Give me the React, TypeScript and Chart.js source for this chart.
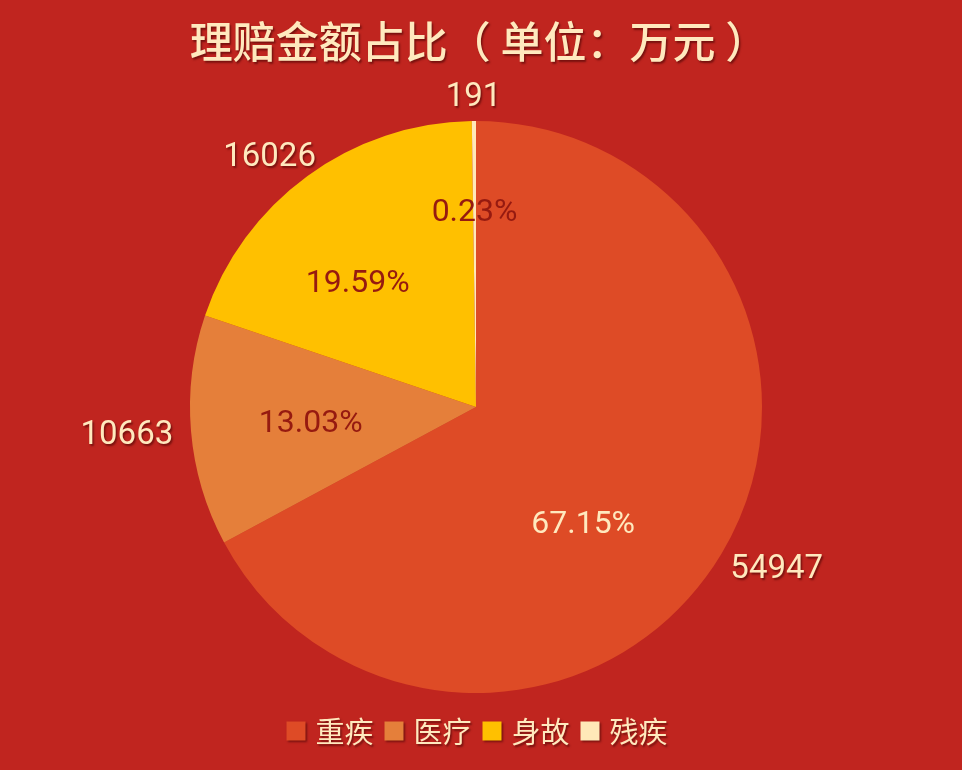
import React, { useEffect, useRef } from "react";
import { Chart, registerables } from "chart.js";

Chart.register(...registerables);

const TITLE = "理赔金额占比（ 单位：万元 ）";
const categories = ["重疾", "医疗", "身故", "残疾"];
const amounts = [54947, 10663, 16026, 191];

const BG = "#C0251F";
const sliceColors = ["#DE4B26", "#E57F3A", "#FFC000", "#FFE8B8"];
const CREAM = "#FFE9BE";
const DARK = "#961A10";
const pctColors = [CREAM, DARK, DARK, DARK];
// label anchor within each slice: fraction of the slice's angle, fraction of the radius
const pctAngleFrac = [0.567, 0.5, 0.4, 0.5];
const pctRadiusFrac = [0.55, 0.58, 0.605, 0.69];

const FONT = 'Roboto, "Noto Sans CJK SC", sans-serif';
const CJK = '"Noto Sans CJK SC", sans-serif';

const labelsPlugin = {
  id: "customLabels",
  beforeDraw(chart: any) {
    const { ctx, width, height } = chart;
    ctx.save();
    ctx.fillStyle = BG;
    ctx.fillRect(0, 0, width, height);
    ctx.restore();
  },
  afterDraw(chart: any) {
    const { ctx, width } = chart;
    const meta = chart.getDatasetMeta(0);
    const data = chart.data.datasets[0].data as number[];
    const total = data.reduce((a, b) => a + b, 0);

    const shadowOn = () => {
      ctx.shadowColor = "rgba(60,0,0,0.55)";
      ctx.shadowOffsetX = 1.5;
      ctx.shadowOffsetY = 1.5;
      ctx.shadowBlur = 2;
    };
    const shadowOff = () => {
      ctx.shadowColor = "transparent";
      ctx.shadowOffsetX = 0;
      ctx.shadowOffsetY = 0;
      ctx.shadowBlur = 0;
    };

    // title
    ctx.save();
    shadowOn();
    ctx.fillStyle = CREAM;
    ctx.font = `500 43px ${CJK}`;
    ctx.textAlign = "center";
    ctx.textBaseline = "middle";
    ctx.fillText(TITLE, 479, 42);
    ctx.restore();

    meta.data.forEach((arc: any, i: number) => {
      const { x, y, startAngle, endAngle, outerRadius } = arc.getProps(
        ["x", "y", "startAngle", "endAngle", "outerRadius"],
        true
      );
      // percentage label inside
      const a = startAngle + (endAngle - startAngle) * pctAngleFrac[i];
      const r = outerRadius * pctRadiusFrac[i];
      const pct = ((data[i] / total) * 100).toFixed(2) + "%";
      ctx.save();
      shadowOff();
      ctx.font = `32px ${FONT}`;
      ctx.fillStyle = pctColors[i];
      ctx.textAlign = "center";
      ctx.textBaseline = "middle";
      ctx.fillText(pct, x + Math.cos(a) * r, y + Math.sin(a) * r + 3);
      ctx.restore();

      // value label outside
      const m = (startAngle + endAngle) / 2;
      const txt = String(data[i]);
      ctx.save();
      ctx.font = `33px ${FONT}`;
      const w = ctx.measureText(txt).width;
      const h = 16;
      const ro = outerRadius + 18;
      const lx = x + Math.cos(m) * ro + (w / 2) * Math.cos(m);
      const ly = y + Math.sin(m) * ro + (h / 2) * Math.sin(m) + 3;
      shadowOn();
      ctx.fillStyle = CREAM;
      ctx.textAlign = "center";
      ctx.textBaseline = "middle";
      ctx.fillText(txt, lx, ly);
      ctx.restore();
    });

    // legend
    ctx.save();
    ctx.font = `29px ${CJK}`;
    const box = 19;
    const gapText = 10;
    const gapItem = 11;
    const items = chart.data.labels as string[];
    const widths = items.map((t) => box + gapText + ctx.measureText(t).width);
    const totalW = widths.reduce((a, b) => a + b, 0) + gapItem * (items.length - 1);
    let cx = width / 2 - totalW / 2 - 4;
    const cy = 731;
    items.forEach((t, i) => {
      shadowOn();
      ctx.fillStyle = sliceColors[i];
      ctx.fillRect(cx, cy - box / 2, box, box);
      ctx.fillStyle = CREAM;
      ctx.textAlign = "left";
      ctx.textBaseline = "middle";
      ctx.fillText(t, cx + box + gapText, cy + 1);
      cx += widths[i] + gapItem;
    });
    ctx.restore();
  },
};

export default function App() {
  const ref = useRef<HTMLCanvasElement | null>(null);
  useEffect(() => {
    document.body.style.margin = "0";
    document.body.style.background = BG;
    const canvas = ref.current!;
    const chart = new Chart(canvas, {
      type: "pie",
      data: {
        labels: categories,
        datasets: [
          {
            data: amounts,
            backgroundColor: sliceColors,
            borderWidth: 0,
          },
        ],
      },
      options: {
        animation: false,
        responsive: false,
        devicePixelRatio: 1,
        layout: { padding: { top: 121, bottom: 77, left: 190, right: 200 } },
        plugins: {
          legend: { display: false },
          title: { display: false },
          tooltip: { enabled: false },
        },
      },
      plugins: [labelsPlugin],
    });
    return () => chart.destroy();
  }, []);
  return (
    <div style={{ width: 962, height: 770, background: BG }}>
      <canvas ref={ref} width={962} height={770} style={{ display: "block" }} />
    </div>
  );
}
